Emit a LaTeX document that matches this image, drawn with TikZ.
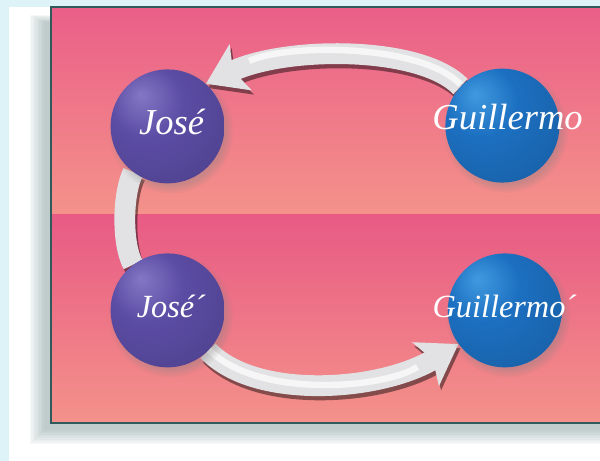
\documentclass[tikz,border=0pt]{standalone}
\usepackage{fontspec}
\setmainfont{Liberation Serif}
\usetikzlibrary{arrows.meta,shadows}

\definecolor{frameblue}{HTML}{DDF3F8}
\definecolor{pinktop}{HTML}{EA5F88}
\definecolor{pinklow}{HTML}{F4928A}
\definecolor{edgeteal}{HTML}{2E5A5C}
\definecolor{shadeteal}{HTML}{5A7C7C}
\definecolor{bandgray}{HTML}{E2E2E4}
\definecolor{joseHi}{HTML}{8477C4}
\definecolor{joseMid}{HTML}{5B4CA4}
\definecolor{joseDark}{HTML}{37297A}
\definecolor{guilHi}{HTML}{409AE0}
\definecolor{guilMid}{HTML}{1C6FC0}
\definecolor{guilDark}{HTML}{0C4A8E}

\pgfdeclareradialshading{joseball}{\pgfpoint{-12bp}{14bp}}{color(0bp)=(joseHi); color(16bp)=(joseMid); color(42bp)=(joseMid!85!black); color(56bp)=(joseDark); color(70bp)=(joseDark)}
\pgfdeclareradialshading{guilball}{\pgfpoint{-12bp}{14bp}}{color(0bp)=(guilHi); color(16bp)=(guilMid); color(42bp)=(guilMid!85!black); color(56bp)=(guilDark); color(70bp)=(guilDark)}

\pgfdeclarelayer{bg}
\pgfdeclarelayer{bands}
\pgfsetlayers{bg,bands,main}

\tikzset{
  sphere/.style={circle, minimum size=2.85cm, inner sep=0pt,
    circular drop shadow={shadow xshift=2pt, shadow yshift=-3pt, opacity=0.35}},
  nametext/.style={anchor=base, text=white, inner sep=0pt},
  bigname/.style={nametext, font=\fontsize{26}{28}\selectfont\itshape},
  smallname/.style={nametext, font=\fontsize{23}{25}\selectfont\itshape},
  band/.style={line width=0.52cm, draw=bandgray,
    -{Stealth[length=0.95cm, width=1.25cm, inset=0.2cm]}},
  bandshadow/.style={band, draw=black, opacity=0.45,
    transform canvas={xshift=1.5pt, yshift=-3pt}},
  bandshine/.style={line width=0.16cm, draw=white, opacity=0.7,
    transform canvas={yshift=1.5pt}}
}

\begin{document}
\begin{tikzpicture}
\useasboundingbox (0,0) rectangle (15,-11.525);

\begin{pgfonlayer}{bg}
%Page
\fill[frameblue] (0,0) rectangle (15,-11.525);
\fill[white] (0.225,-0.175) rectangle (15,-11.525);
\foreach \i in {0,...,9}
  \fill[shadeteal, opacity=0.045] ({1.1-0.04*\i},{-0.55+0.02*\i}) rectangle ({15.3},{-10.75-0.04*\i});

%Panel
\shade[top color=pinktop, bottom color=pinklow] (1.275,-0.175) rectangle (15,-5.375);
\shade[top color=pinktop!95!purple, bottom color=pinklow] (1.275,-5.375) rectangle (15,-10.575);
\draw[edgeteal, line width=0.9pt] (15.2,-0.175) -- (1.275,-0.175) -- (1.275,-10.575) -- (15.2,-10.575);
\end{pgfonlayer}

%Spheres
\node[sphere, shading=joseball] (jose) at (4.19,-3.16) {};
\node[sphere, shading=guilball] (guil) at (12.56,-3.14) {};
\node[sphere, shading=joseball] (jose2) at (4.19,-7.76) {};
\node[sphere, shading=guilball] (guil2) at (12.62,-7.76) {};

%Names
\node[bigname] (josetxt) at (4.29,-3.375) {José};
\node[bigname] (guiltxt) at (12.69,-3.25) {Guillermo};
\node[smallname] (jose2txt) at (4.275,-7.95) {José´};
\node[smallname] (guil2txt) at (12.61,-7.95) {Guillermo´};

%Bands
\begin{pgfonlayer}{bands}
\draw[bandshadow] (guil.137) .. controls (10.5,-1.125) and (7.125,-1.15) .. (jose.48);
\draw[bandshadow,-] (jose.233) .. controls (3.05,-4.875) and (3.05,-6.125) .. (jose2.127);
\draw[bandshadow] (jose2.-45) .. controls (6.375,-10.0) and (9.5,-9.8) .. (guil2.216);

\draw[band] (guil.137) .. controls (10.5,-1.125) and (7.125,-1.15) .. (jose.48);
\draw[band,-] (jose.233) .. controls (3.05,-4.875) and (3.05,-6.125) .. (jose2.127);
\draw[band] (jose2.-45) .. controls (6.375,-10.0) and (9.5,-9.8) .. (guil2.216);

\draw[bandshine, shorten >=1.2cm] (guil.137) .. controls (10.5,-1.125) and (7.125,-1.15) .. (jose.48);
\draw[bandshine, shorten >=1.2cm] (jose2.-45) .. controls (6.375,-10.0) and (9.5,-9.8) .. (guil2.216);
\end{pgfonlayer}
\end{tikzpicture}
\end{document}
